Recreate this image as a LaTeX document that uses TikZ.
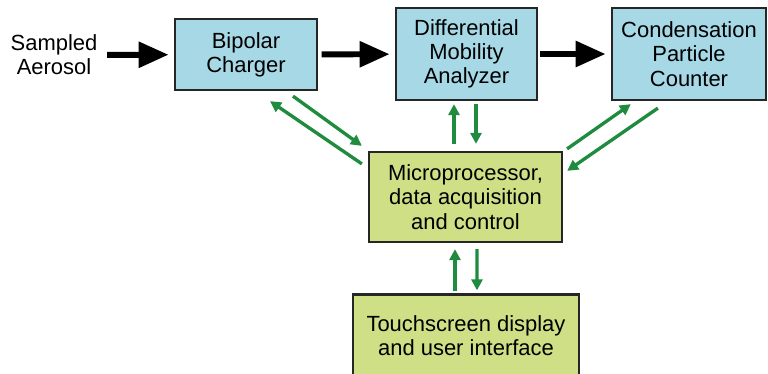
\documentclass[tikz,border=0pt]{standalone}
\usepackage{fontspec}
\setmainfont{Liberation Sans}
\usetikzlibrary{arrows.meta}
\definecolor{boxblue}{RGB}{166,216,230}
\definecolor{boxgreen}{RGB}{206,223,134}
\definecolor{linkgreen}{RGB}{30,139,62}

\begin{document}
\begin{tikzpicture}[x=0.02cm,y=-0.02cm,font=\fontsize{12.5}{13.8}\selectfont]
    \tikzstyle{block}=[draw=black!85,line width=1.3pt,align=center,inner sep=0pt]
    \tikzstyle{unit}=[block, fill=boxblue]
    \tikzstyle{ctrl}=[block, fill=boxgreen]
    \tikzstyle{flow}=[line width=3.4pt,-{Triangle[length=0.6cm,width=0.5cm]}]
    \tikzstyle{link}=[linkgreen,line width=1.9pt,-{Triangle[length=0.22cm,width=0.22cm]}]

\clip (0,0) rectangle (768,373);

\node[align=center] (in) at (54,55) {Sampled\\Aerosol};
\node[unit,minimum width=2.84cm,minimum height=1.42cm] (bc) at (246,54.5) {Bipolar\\Charger};
\node[unit,minimum width=2.82cm,minimum height=1.84cm] (dma) at (466.5,54) {Differential\\Mobility\\Analyzer};
\node[unit,minimum width=3.08cm,minimum height=1.84cm] (cpc) at (689,54) {Condensation\\Particle\\Counter};
\node[ctrl,minimum width=3.86cm,minimum height=1.8cm] (mp) at (465.5,197) {Microprocessor,\\data acquisition\\and control};
\node[ctrl,minimum width=4.52cm,minimum height=1.66cm] (ts) at (466,336) {Touchscreen display\\and user interface};

% sample path
\draw[flow,shorten <=2pt,shorten >=3pt] (in) -- (bc);
\draw[flow,shorten <=2pt,shorten >=3pt] (bc) -- (dma);
\draw[flow,shorten <=1pt,shorten >=3pt] (dma) -- (cpc);

% control links
\draw[link] ([shift={(-6,13)}]mp.north west) -- ([shift={(24,10)}]bc.south);
\draw[link] ([shift={(47,5)}]bc.south) -- ([shift={(-6,-5)}]mp.north west);

\draw[link] ([shift={(-11.5,-7)}]mp.north) -- ([shift={(-12.5,3)}]dma.south);
\draw[link] ([shift={(9.5,3)}]dma.south) -- ([shift={(10.5,-7)}]mp.north);

\draw[link] ([shift={(4,-2)}]mp.north east) -- ([shift={(20,3)}]cpc.south west);
\draw[link] ([shift={(47,7)}]cpc.south west) -- ([shift={(4,20)}]mp.north east);

\draw[link] ([shift={(-11,-2)}]ts.north) -- ([shift={(-10.5,6)}]mp.south);
\draw[link] ([shift={(11.5,6)}]mp.south) -- ([shift={(11,-3)}]ts.north);
\end{tikzpicture}
\end{document}
